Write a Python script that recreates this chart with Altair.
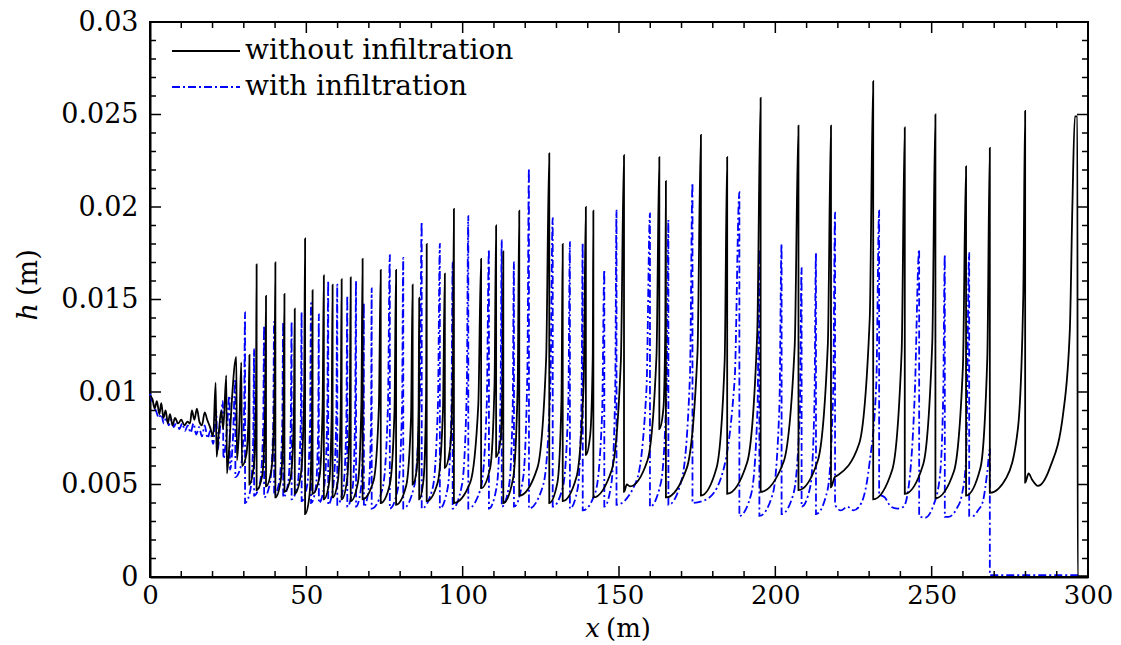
import altair as alt
import pandas as pd

W, H = 938, 555

# water depth h (mm) along x (m)
black_points = [
    (0, 9.8), (0.8, 9.6), (1.5, 9.1), (2.2, 9.5), (3.0, 8.8), (3.6, 9.4), (4.3, 8.6), (5.0, 9.0),
    (5.7, 8.3), (6.4, 8.8), (7.2, 8.2), (8.0, 8.6), (9.0, 8.3), (10.0, 8.5), (11.0, 8.2), (12.0, 8.4),
    (12.8, 8.3), (13.4, 9.0), (14.2, 8.5), (15.0, 9.1), (15.8, 8.4), (16.6, 8.2), (17.5, 8.9), (18.3, 8.5),
    (19.2, 8.1), (20.2, 7.6), (21.0, 10.5), (21.3, 6.5), (22.0, 7.8), (22.8, 9.0), (23.4, 8.0), (24.4, 10.9),
    (24.6, 5.6), (25.4, 7.2), (26.2, 9.6), (27.6, 11.9), (27.8, 6.3), (28.6, 8.4), (29.2, 11.6), (29.4, 6.0),
    (30.8, 6.6), (31.5, 8.6), (31.8, 12.0),
    (31.8, 5.0), (33.2, 6.0), (33.9, 9.8), (34.1, 16.9),
    (34.1, 4.7), (35.9, 5.5), (36.8, 8.9), (37.1, 15.2),
    (37.1, 4.9), (38.9, 5.9), (39.8, 9.7), (40.1, 17.0),
    (40.1, 4.3), (41.8, 5.2), (42.7, 8.7), (43.0, 15.3),
    (43.0, 4.6), (45.0, 5.4), (46.0, 8.6), (46.3, 14.5),
    (46.3, 4.5), (48.3, 5.6), (49.3, 10.0), (49.6, 18.3),
    (49.6, 3.4), (51.0, 4.4), (51.8, 8.2), (52.0, 15.5),
    (52.0, 4.5), (54.2, 5.4), (55.2, 9.2), (55.6, 16.3),
    (55.6, 4.2), (57.3, 5.1), (58.1, 8.8), (58.4, 15.8),
    (58.4, 4.3), (60.1, 5.2), (61.0, 9.0), (61.3, 16.1),
    (61.3, 4.2), (63.0, 5.2), (63.9, 9.0), (64.2, 16.2),
    (64.2, 4.1), (66.5, 5.1), (67.6, 9.3), (68.0, 17.2),
    (68.0, 4.2), (71.5, 5.2), (73.2, 9.2), (73.8, 16.6),
    (73.8, 4.0), (76.7, 5.0), (78.2, 9.0), (78.7, 16.6),
    (78.7, 3.9), (81.9, 4.9), (83.5, 8.7), (84.0, 15.8),
    (84.0, 5.0), (85.3, 5.8), (85.9, 9.0), (86.1, 15.1),
    (86.1, 4.2), (87.5, 5.3), (88.3, 9.7), (88.5, 18.0),
    (88.5, 4.1), (92.0, 5.1), (93.7, 9.0), (94.3, 16.4),
    (94.3, 5.9), (96.0, 7.0), (96.9, 11.5), (97.2, 19.9),
    (97.2, 4.0), (102.4, 5.1), (105.0, 9.3), (105.9, 17.2),
    (105.9, 4.8), (108.8, 5.9), (110.2, 10.5), (110.7, 19.0),
    (110.7, 6.5), (112.1, 7.4), (112.8, 10.9), (113.0, 17.6),
    (113.0, 4.0), (116.1, 5.3), (117.6, 10.3), (118.1, 19.8),
    (118.1, 4.4), (123.9, 5.9), (126.7, 11.8), (127.7, 22.9),
    (127.7, 4.0), (130.3, 5.1), (131.6, 9.6), (132.0, 18.0),
    (132.0, 4.1), (136.4, 5.4), (138.7, 10.5), (139.4, 20.0),
    (139.4, 6.6), (140.8, 7.7), (141.6, 11.9), (141.8, 19.8),
    (141.8, 4.3), (147.7, 5.8), (150.6, 11.7), (151.6, 22.8),
    (151.6, 4.6), (152.5, 5.0), (153.5, 4.9), (159.1, 6.3), (162.0, 12.0), (162.9, 22.7),
    (162.9, 8.0), (164.2, 9.1), (164.8, 13.4), (165.0, 21.4),
    (165.0, 4.3), (171.7, 5.9), (175.1, 12.1), (176.2, 23.9),
    (176.2, 4.4), (181.2, 5.9), (183.8, 11.7), (184.6, 22.7),
    (184.6, 4.5), (191.0, 6.2), (194.2, 13.1), (195.3, 25.9),
    (195.3, 4.6), (202.6, 6.2), (206.2, 12.5), (207.4, 24.4),
    (207.4, 4.7), (213.6, 6.3), (216.8, 12.6), (217.8, 24.4),
    (217.8, 4.85), (219.0, 5.4), (220.0, 5.5), (226.8, 7.2), (230.2, 14.0), (231.3, 26.8),
    (231.3, 4.2), (237.4, 5.8), (240.4, 12.2), (241.4, 24.3),
    (241.4, 4.5), (247.3, 6.1), (250.2, 12.7), (251.2, 25.0),
    (251.2, 4.25), (257.1, 5.7), (260.0, 11.4), (261.0, 22.2),
    (261.0, 4.4), (265.6, 5.9), (267.8, 11.9), (268.6, 23.2),
    (268.6, 4.55), (274.0, 5.4), (277.6, 8.05), (279.3, 15.2), (279.9, 25.2),
    (279.9, 5.1), (281.0, 5.6), (282.0, 5.3), (284.0, 4.93), (287.8, 5.9), (292.1, 8.9),
    (294.2, 13.4), (295.0, 20.0), (295.8, 24.9), (296.6, 24.9), (296.7, 0.05), (300.0, 0.05),
]

blue_points = [
    (0, 9.9), (0.7, 9.5), (1.4, 9.2), (2.1, 8.9), (2.8, 8.6), (3.6, 8.8), (4.4, 8.3), (5.2, 8.6),
    (6.0, 8.2), (6.8, 8.5), (7.6, 8.1), (8.5, 8.4), (9.4, 8.0), (10.3, 8.3), (11.2, 7.9), (12.1, 8.2),
    (13.0, 7.8), (13.9, 8.3), (14.8, 7.7), (15.7, 8.1), (16.6, 7.6), (17.5, 8.2), (18.4, 7.5), (19.3, 7.9),
    (20.2, 7.2), (21.2, 9.0), (21.5, 6.8), (22.5, 8.2), (23.3, 9.5), (23.5, 6.4), (24.5, 7.8), (25.4, 9.8),
    (25.6, 5.8), (26.5, 7.4), (27.3, 10.7),
    (27.3, 5.4), (29.2, 6.1), (30.1, 9.0), (30.4, 14.3),
    (30.4, 4.0), (32.1, 4.7), (33.0, 7.3), (33.3, 12.3),
    (33.3, 4.4), (35.2, 5.1), (36.2, 8.1), (36.5, 13.6),
    (36.5, 4.3), (38.4, 5.1), (39.4, 8.1), (39.7, 13.8),
    (39.7, 4.4), (41.4, 5.2), (42.3, 8.2), (42.6, 13.8),
    (42.6, 4.3), (44.2, 5.1), (45.0, 8.1), (45.3, 13.8),
    (45.3, 4.2), (47.2, 5.0), (48.2, 8.2), (48.5, 14.3),
    (48.5, 4.1), (50.3, 5.0), (51.2, 8.4), (51.5, 14.8),
    (51.5, 4.0), (53.0, 4.8), (53.8, 8.1), (54.0, 14.2),
    (54.0, 4.0), (55.8, 5.0), (56.7, 8.8), (57.0, 16.0),
    (57.0, 3.9), (58.6, 4.9), (59.6, 8.7), (59.9, 15.8),
    (59.9, 3.9), (61.8, 4.8), (62.8, 8.4), (63.1, 15.2),
    (63.1, 3.8), (64.8, 4.8), (65.6, 8.7), (65.9, 16.0),
    (65.9, 3.8), (67.4, 4.7), (68.2, 8.2), (68.4, 14.8),
    (68.4, 3.8), (69.9, 4.7), (70.7, 8.5), (70.9, 15.6),
    (70.9, 3.7), (74.4, 4.8), (76.1, 9.2), (76.7, 17.4),
    (76.7, 3.7), (79.3, 4.8), (80.6, 9.1), (81.0, 17.25),
    (81.0, 3.7), (84.5, 4.9), (86.3, 9.9), (86.9, 19.2),
    (86.9, 3.7), (90.4, 4.8), (92.1, 9.4), (92.7, 18.0),
    (92.7, 3.7), (95.2, 4.8), (96.4, 9.0), (96.8, 17.0),
    (96.8, 3.7), (99.8, 5.0), (101.3, 10.0), (101.8, 19.5),
    (101.8, 3.7), (105.8, 4.8), (107.7, 9.3), (108.4, 17.7),
    (108.4, 3.7), (110.9, 4.9), (112.1, 9.5), (112.5, 18.2),
    (112.5, 3.8), (114.8, 4.9), (116.0, 9.1), (116.4, 17.0),
    (116.4, 3.8), (119.3, 5.3), (120.7, 11.1), (121.2, 22.1),
    (121.2, 3.7), (125.8, 5.0), (128.0, 10.0), (128.8, 19.4),
    (128.8, 3.8), (132.1, 4.9), (133.8, 9.5), (134.3, 18.1),
    (134.3, 3.7), (136.8, 4.8), (138.0, 9.4), (138.4, 18.05),
    (138.4, 3.6), (142.5, 4.6), (144.6, 8.8), (145.3, 16.6),
    (145.3, 3.8), (147.6, 5.1), (148.8, 10.2), (149.2, 19.8),
    (149.2, 3.9), (155.6, 5.2), (158.8, 10.2), (159.9, 19.65),
    (159.9, 3.8), (163.4, 5.1), (165.2, 10.1), (165.8, 19.3),
    (165.8, 3.9), (170.1, 5.3), (172.7, 10.9), (173.5, 21.3),
    (173.5, 4.0), (178.0, 4.2), (182.5, 5.3), (187.0, 10.7), (188.5, 20.8),
    (188.5, 3.3), (192.3, 4.5), (194.3, 9.1), (194.9, 17.7),
    (194.9, 3.3), (199.2, 4.5), (201.3, 9.2), (202.0, 18.0),
    (202.0, 3.4), (205.8, 4.5), (207.8, 8.7), (208.4, 16.7),
    (208.4, 3.8), (211.2, 4.9), (212.5, 9.3), (213.0, 17.5),
    (213.0, 3.4), (216.7, 4.7), (218.5, 9.9), (219.1, 19.7),
    (219.1, 3.9), (221.0, 3.6), (223.0, 3.8), (225.0, 3.6), (227.5, 4.0), (230.0, 6.0), (232.3, 10.5), (233.2, 19.8),
    (233.2, 4.5), (235.0, 4.3), (237.0, 3.8), (239.0, 3.7), (241.0, 3.8), (243.0, 5.4), (244.6, 9.9), (246.0, 17.7),
    (246.0, 3.3), (247.8, 3.2), (250.4, 3.8), (252.6, 5.4), (253.7, 9.9), (254.2, 17.4),
    (254.2, 3.25), (255.3, 3.25), (258.0, 3.7), (259.6, 4.4), (261.0, 6.3), (262.0, 17.5),
    (262.0, 3.3), (263.3, 3.3), (264.8, 3.6), (266.4, 4.1), (267.8, 5.7), (268.6, 6.9),
    (268.6, 0.1), (297.0, 0.1),
]

x_major = [0, 50, 100, 150, 200, 250, 300]
x_minor = [v for v in range(0, 301, 10) if v % 50 != 0]
y_major = [0, 0.005, 0.01, 0.015, 0.02, 0.025, 0.03]
y_minor = [v / 1000 for v in range(0, 31) if v % 5 != 0]

legend_labels = ["without infiltration", "with infiltration"]

FONT = "DejaVu Serif"
BLUE = "#0000ff"
DASH = [8, 3, 2, 3]


def frame(points):
    df = pd.DataFrame(points, columns=["x", "h_mm"])
    df["h"] = df["h_mm"] / 1000.0
    df["i"] = range(len(df))
    return df


xscale = alt.Scale(domain=[0, 300], nice=False, zero=False)
yscale = alt.Scale(domain=[0, 0.03], nice=False, zero=False)

x_axis = alt.Axis(values=x_major, title=None, ticks=False, grid=False, labelFlush=False,
                  labelOverlap=False, labelPadding=5, format="d", domainColor="black", domainWidth=2,
                  labelFont=FONT, labelFontSize=26, labelColor="black")
y_axis = alt.Axis(values=y_major, title=None, ticks=False, grid=False, labelFlush=False,
                  labelOverlap=False, labelPadding=12, format="~g", domainColor="black", domainWidth=2,
                  labelFont=FONT, labelFontSize=27, labelColor="black")

blue_line = alt.Chart(frame(blue_points)).mark_line(
    color=BLUE, strokeWidth=1.8, strokeDash=DASH, interpolate="monotone"
).encode(
    x=alt.X("x:Q", scale=xscale, axis=x_axis),
    y=alt.Y("h:Q", scale=yscale, axis=y_axis),
    order="i:Q",
)

black_line = alt.Chart(frame(black_points)).mark_line(
    color="black", strokeWidth=1.8, interpolate="monotone"
).encode(
    x=alt.X("x:Q", scale=xscale, axis=x_axis),
    y=alt.Y("h:Q", scale=yscale, axis=y_axis),
    order="i:Q",
)


def xticks(vals, length, top):
    return alt.Chart(pd.DataFrame({"v": vals})).mark_rule(color="black", strokeWidth=1.5).encode(
        x=alt.X("v:Q", scale=xscale, axis=x_axis),
        y=alt.value(0 if top else H),
        y2=alt.value(length if top else H - length),
    )


def yticks(vals, length, right):
    return alt.Chart(pd.DataFrame({"v": vals})).mark_rule(color="black", strokeWidth=1.5).encode(
        y=alt.Y("v:Q", scale=yscale, axis=y_axis),
        x=alt.value(W if right else 0),
        x2=alt.value(W - length if right else length),
    )


tick_layers = [
    xticks(x_major, 11, False), xticks(x_minor, 6, False),
    xticks(x_major, 11, True), xticks(x_minor, 6, True),
    yticks(y_major, 11, False), yticks(y_minor, 6, False),
    yticks(y_major, 11, True), yticks(y_minor, 6, True),
]

one = pd.DataFrame({"t": [""]})


def label(text, x, y, size, **kw):
    return alt.Chart(pd.DataFrame({"t": [text]})).mark_text(
        font=FONT, fontSize=size, color="black", **kw
    ).encode(text="t:N", x=alt.value(x), y=alt.value(y))


leg_black = alt.Chart(one).mark_rule(color="black", strokeWidth=1.8).encode(
    x=alt.value(22), x2=alt.value(90), y=alt.value(29))
leg_blue = alt.Chart(one).mark_rule(color=BLUE, strokeWidth=1.8, strokeDash=DASH).encode(
    x=alt.value(22), x2=alt.value(90), y=alt.value(65))

texts = [
    label(legend_labels[0], 95, 29, 28, align="left", baseline="middle"),
    label(legend_labels[1], 95, 65, 28, align="left", baseline="middle"),
    label("x", 450, H + 52, 26, align="right", baseline="middle", fontStyle="italic"),
    label("(m)", 456, H + 52, 26, align="left", baseline="middle"),
    label("h", -121, 281, 27, align="right", baseline="middle", angle=270, fontStyle="italic"),
    label("(m)", -121, 274, 27, align="left", baseline="middle", angle=270),
]

chart = alt.layer(
    blue_line, black_line, *tick_layers, leg_black, leg_blue, *texts
).properties(
    width=W, height=H,
    autosize=alt.AutoSizeParams(type="none"),
    padding={"left": 142, "top": 14, "right": 25, "bottom": 66},
).configure_view(
    stroke="black", strokeWidth=2
)

chart.save("out.html", embed_options={"renderer": "svg", "actions": False})
